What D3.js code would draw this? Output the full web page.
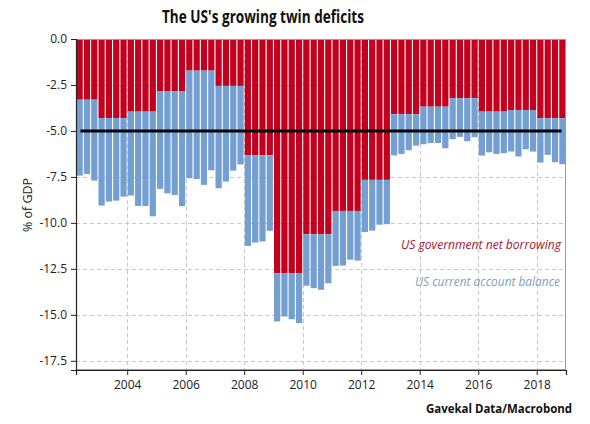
<!DOCTYPE html>
<html>
<head>
<meta charset="utf-8">
<script src="https://cdn.jsdelivr.net/npm/d3@7"></script>
<style>
  html, body { margin: 0; padding: 0; background: #fff; }
  svg { display: block; }
</style>
</head>
<body>
<svg id="chart" width="590" height="424"></svg>
<script>
// ---- Data ----
// Quarters 2002Q2 .. 2018Q4
const years = [2002, 2003, 2004, 2005, 2006, 2007, 2008, 2009, 2010, 2011, 2012, 2013, 2014, 2015, 2016, 2017, 2018];
const firstQuarter = [2, 1, 1, 1, 1, 1, 1, 1, 1, 1, 1, 1, 1, 1, 1, 1, 1];
// US government net borrowing (% of GDP, annual)
const govBorrowing = [-3.3, -4.3, -3.95, -2.83, -1.72, -2.55, -6.32, -12.73, -10.62, -9.35, -7.66, -4.09, -3.68, -3.22, -3.95, -3.86, -4.31];
// US current account balance (% of GDP, quarterly)
const currentAccount = [
  -4.13, -4.04, -4.40,
  -4.76, -4.54, -4.49, -4.27,
  -4.56, -5.13, -5.13, -5.69,
  -5.32, -5.56, -5.65, -6.26,
  -5.85, -5.90, -6.21, -5.42,
  -5.57, -5.20, -4.61, -4.27,
  -4.93, -4.75, -4.69, -4.11,
  -2.63, -2.36, -2.51, -2.72,
  -2.80, -2.93, -3.02, -2.66,
  -2.99, -2.97, -2.65, -2.70,
  -2.84, -2.76, -2.44, -2.41,
  -2.24, -2.16, -1.96, -1.71,
  -2.04, -1.98, -1.98, -2.26,
  -2.23, -2.10, -2.34, -2.12,
  -2.39, -2.21, -2.30, -2.26,
  -2.26, -2.53, -2.14, -2.26,
  -2.41, -1.99, -2.39, -2.50
];
const yTicks = [0, -2.5, -5, -7.5, -10, -12.5, -15, -17.5];
const xTicks = [2004, 2006, 2008, 2010, 2012, 2014, 2016, 2018];
const referenceLine = [-5.0];
const seriesNames = ["US government net borrowing", "US current account balance"];

// ---- Build quarterly table ----
const rows = [];
let k = 0;
years.forEach((yr, i) => {
  for (let q = firstQuarter[i]; q <= 4; q++) {
    rows.push({ t: yr + (q - 1) / 4, gov: govBorrowing[i], ca: currentAccount[k++] });
  }
});

// ---- Layout ----
const svg = d3.select("#chart");
const L = 76, R = 566, T = 39, B = 370;
const x = d3.scaleLinear().domain([2002.25, 2019]).range([L, R]);
const y = d3.scaleLinear().domain([0, -18]).range([T, B]);
const red = "#C4001F", blue = "#739FD3";
const gap = 1.1;

// grid
const grid = svg.append("g").attr("stroke", "#c8c8c8").attr("stroke-dasharray", "4,3").attr("stroke-width", 1);
yTicks.forEach(v => grid.append("line").attr("x1", L).attr("x2", R).attr("y1", Math.round(y(v)) + 0.5).attr("y2", Math.round(y(v)) + 0.5));
xTicks.forEach(v => grid.append("line").attr("y1", T).attr("y2", B).attr("x1", Math.round(x(v)) + 0.5).attr("x2", Math.round(x(v)) + 0.5));

// bars
const bars = svg.append("g");
bars.selectAll("rect.gov").data(rows).join("rect")
  .attr("class", "gov")
  .attr("x", d => x(d.t) + gap / 2)
  .attr("width", d => x(d.t + 0.25) - x(d.t) - gap)
  .attr("y", y(0))
  .attr("height", d => y(d.gov) - y(0))
  .attr("fill", red);
bars.selectAll("rect.ca").data(rows).join("rect")
  .attr("class", "ca")
  .attr("x", d => x(d.t) + gap / 2)
  .attr("width", d => x(d.t + 0.25) - x(d.t) - gap)
  .attr("y", d => y(d.gov))
  .attr("height", d => y(d.gov + d.ca) - y(d.gov))
  .attr("fill", blue);

// reference line
svg.selectAll("line.ref").data(referenceLine).join("line")
  .attr("class", "ref")
  .attr("x1", L + 4.5).attr("x2", R - 4.5)
  .attr("y1", d => y(d)).attr("y2", d => y(d))
  .attr("stroke", "#000").attr("stroke-width", 3);

// frame
svg.append("rect").attr("x", L + 0.5).attr("y", T + 0.5).attr("width", R - L - 1).attr("height", B - T - 1)
  .attr("fill", "none").attr("stroke", "#9a9a9a").attr("stroke-width", 1);

// axes
const font = "'Open Sans', sans-serif";
const yAxis = svg.append("g").attr("transform", `translate(${L},0)`)
  .call(d3.axisLeft(y).tickValues(yTicks).tickFormat(d3.format(".1f")).tickSize(5).tickPadding(4));
const xAxis = svg.append("g").attr("transform", `translate(0,${B})`)
  .call(d3.axisBottom(x).tickValues(xTicks).tickFormat(d3.format("d")).tickSize(5).tickPadding(5));
[yAxis, xAxis].forEach(a => {
  a.selectAll("path").attr("stroke", "#222").attr("stroke-width", 1.2);
  a.selectAll("line").attr("stroke", "#222");
  a.selectAll("text").attr("font-family", font).attr("font-size", 12).attr("fill", "#222");
});
yAxis.selectAll("text").text(d => d === 0 ? "0.0" : d3.format(".1f")(d).replace("−", "-"));

// y label
svg.append("text").attr("transform", "translate(32,205) rotate(-90)")
  .attr("text-anchor", "middle").attr("font-family", font).attr("font-size", 12.5).attr("fill", "#222")
  .text("% of GDP");

// title
svg.append("text").attr("x", 263).attr("y", 23).attr("text-anchor", "middle")
  .attr("font-family", font).attr("font-weight", "bold").attr("font-size", 17).attr("fill", "#111")
  .attr("textLength", 202).attr("lengthAdjust", "spacingAndGlyphs")
  .text("The US's growing twin deficits");

// series labels
svg.append("text").attr("x", 561).attr("y", 249).attr("text-anchor", "end")
  .attr("font-family", font).attr("font-style", "italic").attr("font-size", 13).attr("fill", "#A8152E")
  .attr("textLength", 160).attr("lengthAdjust", "spacingAndGlyphs")
  .text(seriesNames[0]);
svg.append("text").attr("x", 560).attr("y", 286).attr("text-anchor", "end")
  .attr("font-family", font).attr("font-style", "italic").attr("font-size", 13).attr("fill", "#7C9DC6")
  .attr("textLength", 145).attr("lengthAdjust", "spacingAndGlyphs")
  .text(seriesNames[1]);

// source
svg.append("text").attr("x", 572).attr("y", 413).attr("text-anchor", "end")
  .attr("font-family", font).attr("font-weight", "bold").attr("font-size", 12).attr("fill", "#111")
  .attr("textLength", 146).attr("lengthAdjust", "spacingAndGlyphs")
  .text("Gavekal Data/Macrobond");
</script>
</body>
</html>
